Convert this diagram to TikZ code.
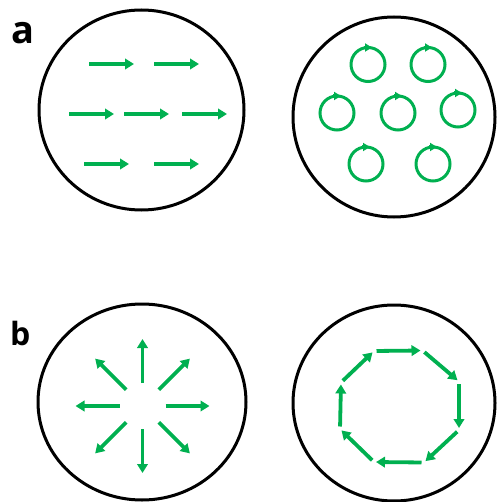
\documentclass[tikz,border=0pt]{standalone}
\usepackage{fontspec}
\setmainfont{Open Sans}
\usetikzlibrary{arrows.meta,calc}
\definecolor{flowgreen}{RGB}{0,176,80}
\tikzset{
  rim/.style={draw=black, line width=3pt},
  flow/.style={draw=flowgreen, line width=3.8pt, -{Triangle[length=9pt,width=10.5pt]}},
  swirl/.style={draw=flowgreen, line width=3pt},
  swirltip/.style={draw=flowgreen, line width=3pt, -{Triangle[length=7pt,width=8pt]}},
  edgeflow/.style={flow, shorten <=2.5pt, shorten >=2pt},
  panel/.style={inner sep=0pt, anchor=base west, font=\bfseries}
}
\begin{document}
\begin{tikzpicture}[x=1pt,y=-1pt]
\useasboundingbox (0,0) rectangle (496,502);

% panel labels
\node[panel, font=\bfseries\fontsize{38}{38}\selectfont] (la) at (11,43.3) {a};
\node[panel, font=\bfseries\fontsize{32}{32}\selectfont] (lb) at (10,345) {b};

% outer circles
\draw[rim] (141.5,110) ellipse [x radius=102.5, y radius=100];
\draw[rim] (394,117) ellipse [x radius=101, y radius=100];
\draw[rim] (142,402) ellipse [x radius=104, y radius=98];
\draw[rim] (394,403) ellipse [x radius=101, y radius=98];

% panel a, left: uniform flow
\draw[flow] (89,64) -- (134,64);
\draw[flow] (154,64) -- (199,64);
\draw[flow] (69,114) -- (114,114);
\draw[flow] (124,114) -- (169,114);
\draw[flow] (182,114) -- (227,114);
\draw[flow] (84,164) -- (129,164);
\draw[flow] (154,164) -- (199,164);

% panel a, right: vortices
\foreach \n/\cx/\cy in {A/368/64.5, B/428/64.5, C/337/113, D/398/113, E/458/110, F/366/164, G/433/164}{
  \coordinate (v\n) at (\cx,\cy);
  \draw[swirl] (v\n) circle [radius=17];
  \draw[swirltip] ($(v\n)+(-4,-17)$) -- ($(v\n)+(4,-17)$);
}

% panel b, left: source
\coordinate (src) at (142.5,406);
\foreach \a in {0,45,...,315}{
  \draw[flow] ($(src)+(\a:23)$) -- ($(src)+(\a:67)$);
}

% panel b, right: circulation
\coordinate (o1) at (374,351);
\coordinate (o2) at (422.5,350.5);
\coordinate (o3) at (459,381.5);
\coordinate (o4) at (459,430);
\coordinate (o5) at (424,462.5);
\coordinate (o6) at (374,462);
\coordinate (o7) at (340,429);
\coordinate (o8) at (341,382.5);
\draw[edgeflow] (o1) -- (o2);
\draw[edgeflow] (o2) -- (o3);
\draw[edgeflow] (o3) -- (o4);
\draw[edgeflow] (o4) -- (o5);
\draw[edgeflow] (o5) -- (o6);
\draw[edgeflow] (o6) -- (o7);
\draw[edgeflow] (o7) -- (o8);
\draw[edgeflow] (o8) -- (o1);
\end{tikzpicture}
\end{document}
